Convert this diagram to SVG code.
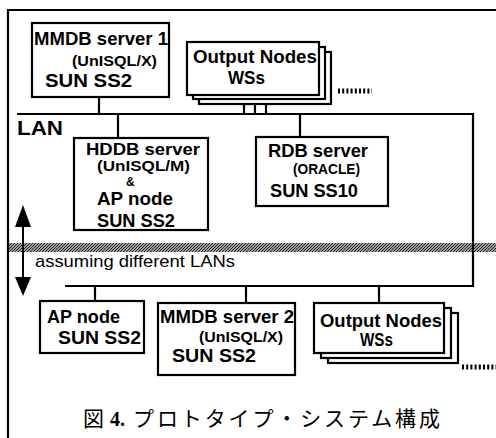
<svg xmlns="http://www.w3.org/2000/svg" width="496" height="438" viewBox="0 0 496 438">
<style>
.box{fill:#fff;stroke:#000;stroke-width:2.2}
.ln{fill:none;stroke:#000;stroke-width:2.2}
.b{font-family:"Liberation Sans",Arial,sans-serif;font-weight:bold;fill:#000}
.r{font-family:"Liberation Sans",Arial,sans-serif;fill:#000}
.dots{stroke:#000;stroke-width:5;stroke-dasharray:2 2.2}
</style>
<defs>
<pattern id="hatch" patternUnits="userSpaceOnUse" width="3" height="3">
<rect width="3" height="3" fill="#a0a0a0"/>
<path d="M-1,1 L1,-1 M0,3 L3,0 M2,4 L4,2" stroke="#222" stroke-width="1"/>
</pattern>
</defs>
<rect x="8" y="243" width="488" height="9" fill="url(#hatch)"/>
<g id="frame">
<path class="ln" d="M8,438 V10 H496"/>
</g>
<g id="connectors">
<path class="ln" d="M17,114 H473 V286 H65"/>
<path class="ln" d="M99,97 V114"/>
<path class="ln" d="M118,114 V138"/>
<path class="ln" d="M300,114 V137"/>
<path class="ln" d="M244,95 V114 M255,99 V114 M266,104 V114"/>
<path class="ln" d="M95,286 V301"/>
<path class="ln" d="M246,286 V303"/>
<path class="ln" d="M379,286 V303"/>
<path d="M23,225 V280" stroke="#000" stroke-width="2"/>
<path d="M23,205 L31,227 L15,227 z" fill="#000"/>
<path d="M23,296 L31,277 L15,277 z" fill="#000"/>
</g>
<g id="lan-label"><text class="b" x="17" y="135" font-size="21" textLength="46" lengthAdjust="spacingAndGlyphs">LAN</text></g>
<g id="note"><text class="r" x="35" y="267" font-size="17" textLength="200" lengthAdjust="spacingAndGlyphs">assuming different LANs</text></g>
<g id="mmdb1">
<rect class="box" x="32" y="23" width="137" height="74"/>
<text class="b" x="34" y="45" font-size="18" textLength="134" lengthAdjust="spacingAndGlyphs">MMDB server 1</text>
<text class="b" x="72" y="66" font-size="15" textLength="85" lengthAdjust="spacingAndGlyphs">(UnISQL/X)</text>
<text class="b" x="45" y="87" font-size="19" textLength="87" lengthAdjust="spacingAndGlyphs">SUN SS2</text>
</g>
<g id="output1">
<rect class="box" x="199" y="52" width="132" height="52"/>
<rect class="box" x="193" y="47" width="132" height="52"/>
<rect class="box" x="187" y="42" width="132" height="53"/>
<text class="b" x="193" y="63" font-size="18" textLength="124" lengthAdjust="spacingAndGlyphs">Output Nodes</text>
<text class="b" x="228" y="84" font-size="18" textLength="37" lengthAdjust="spacingAndGlyphs">WSs</text>
<line class="dots" x1="338" y1="91" x2="372" y2="91"/>
</g>
<g id="hddb">
<rect class="box" x="74" y="138" width="134" height="92"/>
<text class="b" x="86" y="155" font-size="17" textLength="114" lengthAdjust="spacingAndGlyphs">HDDB server</text>
<text class="b" x="97" y="171" font-size="14" textLength="93" lengthAdjust="spacingAndGlyphs">(UnISQL/M)</text>
<text class="b" x="126" y="186" font-size="12">&amp;</text>
<text class="b" x="97" y="205" font-size="18" textLength="76" lengthAdjust="spacingAndGlyphs">AP node</text>
<text class="b" x="97" y="227" font-size="18" textLength="78" lengthAdjust="spacingAndGlyphs">SUN SS2</text>
</g>
<g id="rdb">
<rect class="box" x="256" y="137" width="132" height="69"/>
<text class="b" x="268" y="157" font-size="18" textLength="100" lengthAdjust="spacingAndGlyphs">RDB server</text>
<text class="b" x="293" y="174" font-size="15" textLength="67" lengthAdjust="spacingAndGlyphs">(ORACLE)</text>
<text class="b" x="270" y="197" font-size="18" textLength="88" lengthAdjust="spacingAndGlyphs">SUN SS10</text>
</g>
<g id="apnode">
<rect class="box" x="40" y="301" width="104" height="52"/>
<text class="b" x="47" y="323" font-size="18" textLength="73" lengthAdjust="spacingAndGlyphs">AP node</text>
<text class="b" x="58" y="344" font-size="18" textLength="83" lengthAdjust="spacingAndGlyphs">SUN SS2</text>
</g>
<g id="mmdb2">
<rect class="box" x="158" y="303" width="137" height="72"/>
<text class="b" x="160" y="323" font-size="18" textLength="134" lengthAdjust="spacingAndGlyphs">MMDB server 2</text>
<text class="b" x="199" y="342" font-size="15" textLength="84" lengthAdjust="spacingAndGlyphs">(UnISQL/X)</text>
<text class="b" x="172" y="362" font-size="19" textLength="84" lengthAdjust="spacingAndGlyphs">SUN SS2</text>
</g>
<g id="output2">
<rect class="box" x="328" y="313" width="130" height="50"/>
<rect class="box" x="321" y="308" width="130" height="50"/>
<rect class="box" x="314" y="303" width="130" height="50"/>
<text class="b" x="320" y="327" font-size="18" textLength="122" lengthAdjust="spacingAndGlyphs">Output Nodes</text>
<text class="b" x="360" y="346" font-size="18" textLength="33" lengthAdjust="spacingAndGlyphs">WSs</text>
<line class="dots" x1="462" y1="367" x2="496" y2="367"/>
</g>
<g id="caption">
<text x="83" y="426" font-size="21" font-family="'Noto Sans CJK JP',sans-serif" fill="#000">図</text>
<text x="110" y="426" font-size="20" font-family="'Liberation Serif',serif" font-weight="bold" fill="#000">4.</text>
<text x="133" y="426" font-size="21" font-family="'Noto Sans CJK JP',sans-serif" fill="#000" textLength="307" lengthAdjust="spacing">プロトタイプ・システム構成</text>
</g>
</svg>
